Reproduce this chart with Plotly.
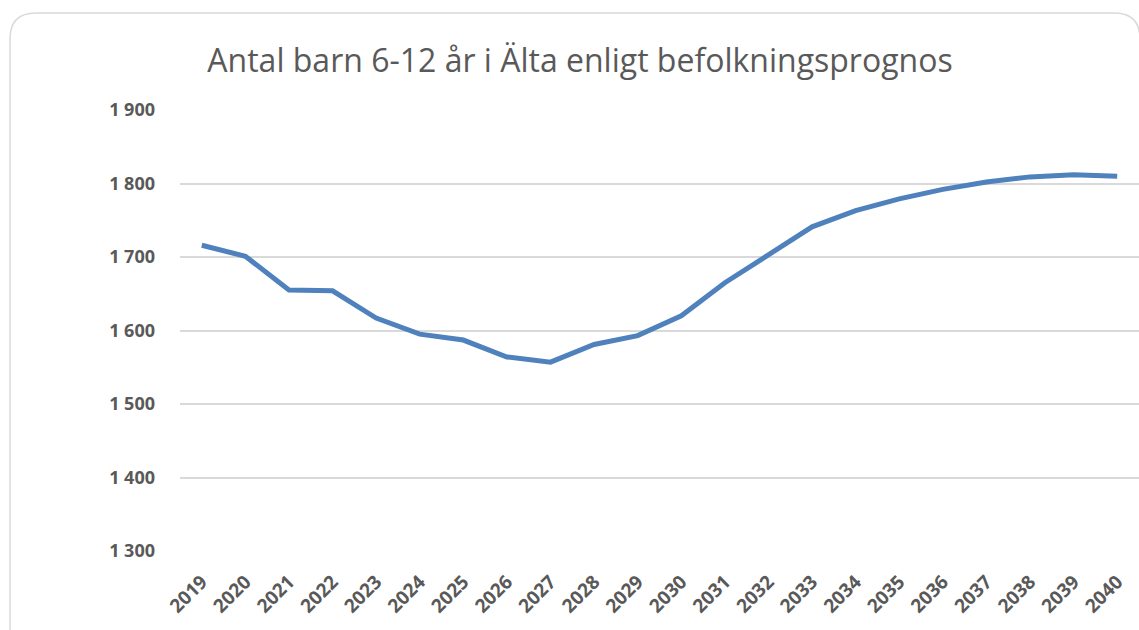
import plotly.graph_objects as go

years = [str(y) for y in range(2019, 2041)]
values = [1716, 1701, 1655, 1654, 1617, 1595, 1587, 1564, 1557, 1581, 1593,
          1620, 1665, 1704, 1741, 1763, 1779, 1792, 1802, 1809, 1812, 1810]
y_ticks = [1300, 1400, 1500, 1600, 1700, 1800, 1900]
y_labels = ["1 300", "1 400", "1 500", "1 600", "1 700", "1 800", "1 900"]
title = "Antal barn 6-12 år i Älta enligt befolkningsprognos"

W, H = 1139, 630
L, R, T, B = 180, 0, 110, 79
pw, ph = W - L - R, H - T - B
FONT = "Open Sans, Liberation Sans, sans-serif"
GREY = "#595959"

def px(x):
    return (x - L) / pw

def py(y):
    return (H - B - y) / ph

fig = go.Figure()
fig.add_trace(go.Scatter(
    x=years, y=values, mode="lines",
    line=dict(color="#4F81BD", width=5),
    hoverinfo="x+y",
))

# rounded chart-area border
left, top, right, bottom, r = 10, 13, 1140, 645, 26
path = (f"M {px(left)},{py(bottom)} L {px(left)},{py(top + r)} "
        f"Q {px(left)},{py(top)} {px(left + r)},{py(top)} "
        f"L {px(right - r)},{py(top)} "
        f"Q {px(right)},{py(top)} {px(right)},{py(top + r)} "
        f"L {px(right)},{py(bottom)}")
fig.add_shape(type="path", path=path, xref="paper", yref="paper",
              line=dict(color="#D9D9D9", width=1.5), layer="below")

fig.update_layout(
    width=W, height=H,
    margin=dict(l=L, r=R, t=T, b=B, autoexpand=False),
    paper_bgcolor="white", plot_bgcolor="white",
    showlegend=False,
    title=dict(text=title, x=580 / W, xanchor="center",
               y=1 - 61 / H, yanchor="middle", yref="container",
               font=dict(family=FONT, size=32, color=GREY)),
    font=dict(family=FONT, color=GREY),
)
fig.update_xaxes(
    type="category", range=[-0.5, 21.5],
    tickangle=-45, showgrid=False, showline=False, ticks="",
    tickfont=dict(size=19, color=GREY, family=FONT, weight="bold"),
    ticklabelstandoff=15, automargin=False,
)
fig.update_yaxes(
    range=[1300, 1900], tickvals=y_ticks, ticktext=y_labels,
    showgrid=True, gridcolor="#D9D9D9", gridwidth=1.5,
    zeroline=False, showline=False, ticks="",
    tickfont=dict(size=18, color=GREY, family=FONT, weight="bold"),
    ticklabelstandoff=24, automargin=False,
)

fig.write_html(
    "out.html",
    config={"displayModeBar": False},
    post_script="document.body.style.margin='0';document.body.style.overflow='hidden';",
)
